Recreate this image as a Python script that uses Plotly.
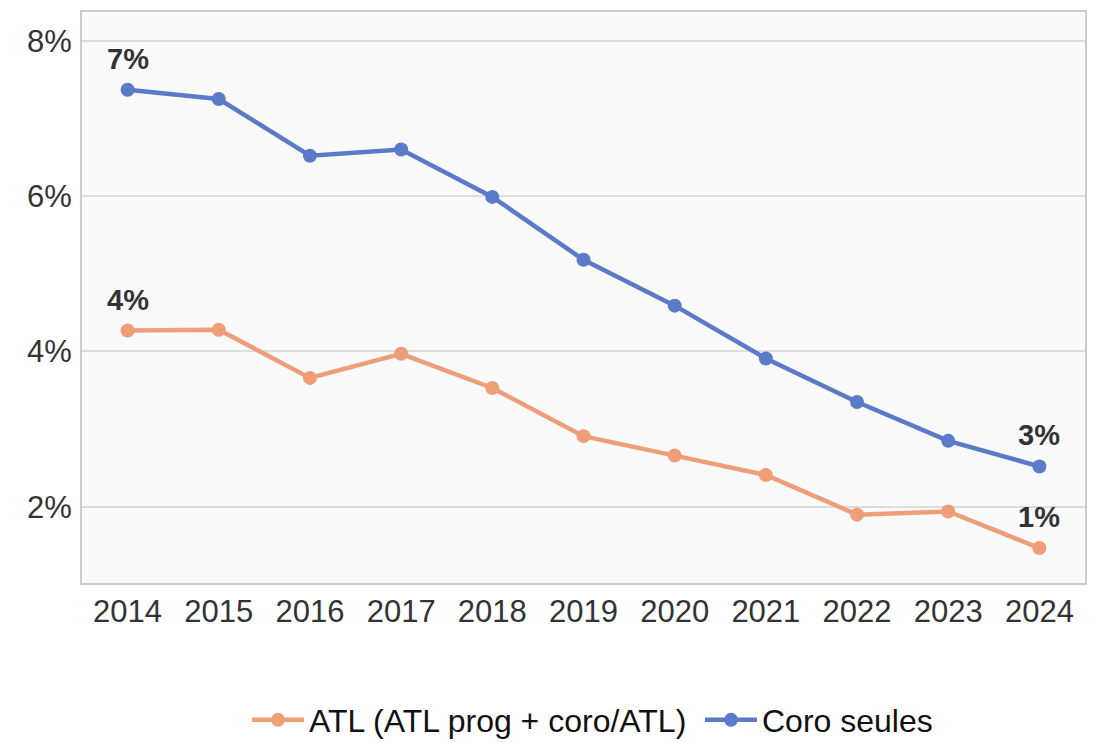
import plotly.graph_objects as go

years = [2014, 2015, 2016, 2017, 2018, 2019, 2020, 2021, 2022, 2023, 2024]
atl = [4.27, 4.28, 3.66, 3.97, 3.53, 2.91, 2.66, 2.41, 1.90, 1.94, 1.47]
coro = [7.37, 7.25, 6.52, 6.60, 5.99, 5.18, 4.59, 3.91, 3.35, 2.85, 2.52]
y_ticks = [2, 4, 6, 8]
y_tick_labels = ["2%", "4%", "6%", "8%"]

ORANGE = "#EE9E79"
BLUE = "#5B7BC8"
FONT = "Liberation Sans, Arial, sans-serif"

fig = go.Figure()
fig.add_trace(go.Scatter(x=years, y=atl, mode="lines+markers", name="ATL (ATL prog + coro/ATL)",
                         line=dict(color=ORANGE, width=4.5), marker=dict(size=14, color=ORANGE)))
fig.add_trace(go.Scatter(x=years, y=coro, mode="lines+markers", name="Coro seules",
                         line=dict(color=BLUE, width=4.5), marker=dict(size=14, color=BLUE)))

for series in (atl, coro):
    for idx in (0, len(years) - 1):
        fig.add_annotation(x=years[idx], y=series[idx], text=f"<b>{round(series[idx])}%</b>",
                           showarrow=False, yshift=31, font=dict(size=29, color="#333333", family=FONT))

# page body has an 8px margin; the figure is placed to compensate
fig.update_layout(
    width=1080, height=735,
    margin=dict(l=74, r=3, t=4, b=160, autoexpand=False),
    paper_bgcolor="white", plot_bgcolor="#FAFAFA",
    font=dict(family=FONT, size=31, color="#333333"),
    showlegend=True,
    legend=dict(orientation="h", x=0.1645, xanchor="left", y=-0.24, yanchor="middle",
                font=dict(size=32, color="#111111", family=FONT), itemwidth=52,
                entrywidth=386),
)
fig.update_xaxes(range=[2013.5, 2024.5], tickvals=years, ticktext=[str(y) for y in years],
                 showgrid=False, showline=True, mirror=True, linecolor="#CCCCCC", linewidth=2,
                 ticks="", automargin=False,
                 tickfont=dict(size=31, color="#333333"), zeroline=False)
fig.update_yaxes(range=[1.02, 8.37], tickvals=y_ticks, ticktext=y_tick_labels,
                 showgrid=True, gridcolor="#DDDDDD", gridwidth=2,
                 showline=True, mirror=True, linecolor="#CCCCCC", linewidth=2,
                 ticks="outside", ticklen=2, tickcolor="rgba(0,0,0,0)", automargin=False,
                 tickfont=dict(size=31, color="#333333"), zeroline=False)

fig.write_html("out.html")
